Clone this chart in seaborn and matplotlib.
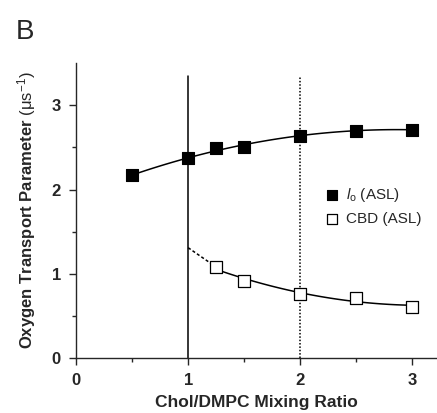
import matplotlib
matplotlib.use("Agg")
import matplotlib.pyplot as plt
import numpy as np
import pandas as pd
import seaborn as sns

# values
ratio_lo = [0.5, 1.0, 1.25, 1.5, 2.0, 2.5, 3.0]
lo_asl = [2.17, 2.37, 2.49, 2.51, 2.64, 2.70, 2.71]
ratio_cbd = [1.25, 1.5, 2.0, 2.5, 3.0]
cbd_asl = [1.08, 0.91, 0.76, 0.71, 0.61]
cbd_extrap_x = [1.0, 1.25]
cbd_extrap_y = [1.31, 1.08]
xticks = [0, 1, 2, 3]
yticks = [0, 1, 2, 3]

sns.set_style("ticks")
plt.rcParams['font.family'] = ['Liberation Sans', 'DejaVu Sans']
plt.rcParams['mathtext.fontset'] = 'custom'
plt.rcParams['mathtext.rm'] = 'Liberation Sans'
plt.rcParams['mathtext.it'] = 'Liberation Sans:italic'

fig = plt.figure(figsize=(4.37, 4.13), dpi=100)
ax = fig.add_axes([0.174, 0.133, 0.826, 0.714])

df_lo = pd.DataFrame({'x': ratio_lo, 'y': lo_asl})
df_cbd = pd.DataFrame({'x': ratio_cbd, 'y': cbd_asl})

# vertical reference lines
ax.plot([1, 1], [0, 3.35], color='black', lw=1.1)
ax.plot([2, 2], [0, 3.35], color='black', lw=1.1, ls=(0, (1, 1.2)))

# fitted curves
c1 = np.polyfit(ratio_lo, lo_asl, 2)
xs1 = np.linspace(min(ratio_lo), max(ratio_lo), 100)
ax.plot(xs1, np.polyval(c1, xs1), color='black', lw=1.1)
c2 = np.polyfit(ratio_cbd, cbd_asl, 2)
xs2 = np.linspace(min(ratio_cbd), max(ratio_cbd), 100)
ax.plot(xs2, np.polyval(c2, xs2), color='black', lw=1.1)
ax.plot(cbd_extrap_x, cbd_extrap_y, color='black', lw=1.1, ls=(0, (2, 1.5)))

sns.scatterplot(data=df_lo, x='x', y='y', ax=ax, marker='s', s=70,
                color='black', edgecolor='black', linewidth=0.8, zorder=5,
                label=r'$\mathit{l}_{\mathrm{o}}$ (ASL)')
sns.scatterplot(data=df_cbd, x='x', y='y', ax=ax, marker='s', s=70,
                facecolor='white', edgecolor='black', linewidth=0.9, zorder=5,
                label='CBD (ASL)')

ax.set_xlim(0, 3.22)
ax.set_ylim(0, 3.5)
ax.set_xticks(xticks)
ax.set_yticks(yticks)
ax.set_xticks([0.5, 1.5, 2.5], minor=True)
ax.set_yticks([0.5, 1.5, 2.5], minor=True)
ax.tick_params(which='major', length=5, width=1, labelsize=12, direction='out', pad=6)
ax.tick_params(which='minor', length=3, width=1, direction='out')
for lab in ax.get_xticklabels() + ax.get_yticklabels():
    lab.set_fontweight('bold')
sns.despine(ax=ax)
ax.spines['left'].set_linewidth(1)
ax.spines['bottom'].set_linewidth(1)

ax.set_xlabel('Chol/DMPC Mixing Ratio', fontsize=12.5, fontweight='bold', labelpad=5)
ax.set_ylabel(r'Oxygen Transport Parameter $(\mathrm{\mu s^{-1}})$', fontsize=12,
              fontweight='bold', labelpad=10)

leg = ax.legend(loc='upper left', bbox_to_anchor=(0.65, 0.63), frameon=False,
                fontsize=11, handletextpad=0.4, labelspacing=0.5, handlelength=1.0,
                markerscale=0.8)

fig.text(0.035, 0.905, 'B', fontsize=20)

fig.savefig('out.png', dpi=100)
